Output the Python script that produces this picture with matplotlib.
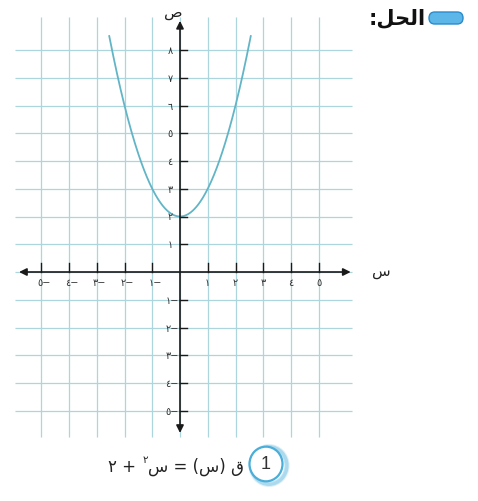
import numpy as np
import matplotlib
matplotlib.use("Agg")
import matplotlib.pyplot as plt
from matplotlib.patches import Circle, FancyBboxPatch

plt.rcParams['font.family'] = ['DejaVu Sans']

# f(x) = x^2 + 2 drawn on a square grid
x_ticks = [-5, -4, -3, -2, -1, 1, 2, 3, 4, 5]
x_tick_labels = ["٥−", "٤−", "٣−", "٢−", "١−", "١", "٢", "٣", "٤", "٥"]
y_ticks = [-5, -4, -3, -2, -1, 1, 2, 3, 4, 5, 6, 7, 8]
y_tick_labels = ["٥−", "٤−", "٣−", "٢−", "١−", "١", "٢", "٣", "٤", "٥", "٦", "٧", "٨"]
grid_x = list(range(-5, 6))
grid_y = list(range(-5, 9))
curve_a, curve_c = 1, 2
curve_xmax = 2.55

W, H = 478, 502
ORIGIN = (180, 273)   # pixel position of (0, 0)
UNIT = 27.75          # pixels per grid unit

fig = plt.figure(figsize=(W / 100, H / 100), dpi=100)
ax = fig.add_axes([0, 0, 1, 1])
ax.set_xlim(-ORIGIN[0] / UNIT, (W - ORIGIN[0]) / UNIT)
ax.set_ylim(-(H - ORIGIN[1]) / UNIT, ORIGIN[1] / UNIT)
ax.axis('off')

def fig_px(px, py):
    return px / W, 1 - py / H

grid_col = '#acd5dd'
ax.vlines(grid_x, -5.95, 9.2, color=grid_col, lw=0.9, zorder=1)
ax.hlines(grid_y, -5.95, 6.2, color=grid_col, lw=0.9, zorder=1)

# axes with arrowheads
ax.annotate('', xy=(-5.8, 0), xytext=(6.15, 0),
            arrowprops=dict(arrowstyle='<|-|>', color='#1a1a1a', lw=1.2,
                            mutation_scale=11, shrinkA=0, shrinkB=0), zorder=3)
ax.annotate('', xy=(0, -5.8), xytext=(0, 9.05),
            arrowprops=dict(arrowstyle='<|-|>', color='#1a1a1a', lw=1.2,
                            mutation_scale=11, shrinkA=0, shrinkB=0), zorder=3)

# tick marks
for xv in x_ticks:
    ax.plot([xv, xv], [0, 0.33], color='#1a1a1a', lw=1.0, zorder=3)
for yv in y_ticks:
    ax.plot([0, 0.27], [yv, yv], color='#1a1a1a', lw=1.0, zorder=3)

tick_col = '#333333'
for xv, lab in zip(x_ticks, x_tick_labels):
    ax.text(xv + (0.1 if xv < 0 else 0), -0.36, lab, ha='center', va='center',
            fontsize=7, color=tick_col, zorder=4)
for yv, lab in zip(y_ticks, y_tick_labels):
    if yv < 0:
        ax.text(-0.05, yv, lab, ha='right', va='center', fontsize=7,
                color=tick_col, zorder=4)
    else:
        ax.text(-0.36, yv, lab, ha='center', va='center', fontsize=7,
                color=tick_col, zorder=4)

# parabola
xs = np.linspace(-curve_xmax, curve_xmax, 200)
ax.plot(xs, curve_a * xs ** 2 + curve_c, color='#62b5c6', lw=1.3, zorder=2)

# axis names (ص, س)
ax.text(-0.25, 9.4, "ص", ha='center', va='center', fontsize=11, color='#222222')
ax.text(7.25, 0.05, "س", ha='center', va='center', fontsize=11, color='#222222')

# heading with the blue pill marker
tx, ty = fig_px(426, 18)
fig.text(tx, ty, ":" + "\ufede\ufea4\ufedf\ufe8d", ha='right', va='center',
         fontsize=15, fontweight='bold', color='#111111')
px0, py0 = fig_px(429, 25)
pill = FancyBboxPatch((px0, py0), 34 / W, 12 / H,
                      boxstyle='round,pad=0,rounding_size=0.012',
                      transform=fig.transFigure, facecolor='#5cb6e8',
                      edgecolor='#2b8ccc', lw=1.0)
fig.patches.append(pill)

# function label with circled number
cx, cy = fig_px(266, 465)
for r, a in [(18.5, 0.2), (17.5, 0.4)]:
    glow = Circle((cx + 3 / W, cy - 1.5 / H), r / W, transform=fig.transFigure,
                  facecolor='none', edgecolor='#5fb8e0', lw=3, alpha=a)
    fig.patches.append(glow)
ring = Circle((cx, cy), 16.5 / W, transform=fig.transFigure, facecolor='white',
              edgecolor='#4aaed9', lw=1.6)
fig.patches.append(ring)
fig.text(cx, cy, "1", ha='center', va='center', fontsize=13, color='#333333',
         fontfamily='Liberation Sans')

fx, fy = fig_px(244, 467)
t_main = fig.text(fx, fy, "س = (س) ق", ha='right', va='center', fontsize=12,
                  color='#222222')
t_sup = ax.annotate("٢", xy=(0, 0.6), xycoords=t_main, ha='right', va='bottom',
                    fontsize=7.5, color='#222222')
ax.annotate("٢ + ", xy=(-0.2, 0.0), xycoords=(t_sup, t_main), ha='right',
            va='bottom', fontsize=12, color='#222222')

fig.savefig("out.png", dpi=100, facecolor='white')
